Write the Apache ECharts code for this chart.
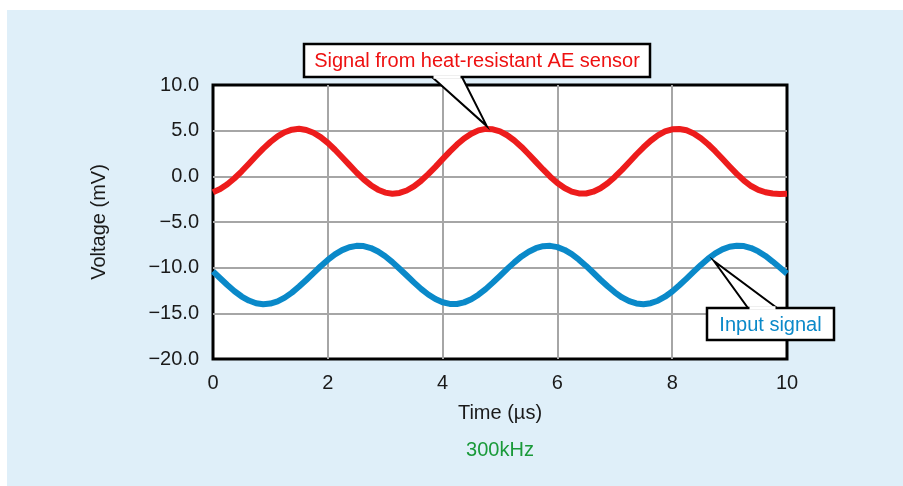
<!DOCTYPE html>
<html>
<head>
<meta charset="utf-8">
<script src="https://cdn.jsdelivr.net/npm/echarts@6/dist/echarts.min.js"></script>
<style>
html,body{margin:0;padding:0;background:#ffffff;}
#c{width:903px;height:486px;}
</style>
</head>
<body>
<div id="c"></div>
<script>
// ---- data (time step 0.125 µs) ----
var times = [0,0.125,0.25,0.375,0.5,0.625,0.75,0.875,1,1.125,1.25,1.375,1.5,1.625,1.75,1.875,2,2.125,2.25,2.375,2.5,2.625,2.75,2.875,3,3.125,3.25,3.375,3.5,3.625,3.75,3.875,4,4.125,4.25,4.375,4.5,4.625,4.75,4.875,5,5.125,5.25,5.375,5.5,5.625,5.75,5.875,6,6.125,6.25,6.375,6.5,6.625,6.75,6.875,7,7.125,7.25,7.375,7.5,7.625,7.75,7.875,8,8.125,8.25,8.375,8.5,8.625,8.75,8.875,9,9.125,9.25,9.375,9.5,9.625,9.75,9.875,10];
var aeSignal = [-1.74,-1.39,-0.87,-0.21,0.55,1.38,2.22,3.03,3.76,4.38,4.83,5.11,5.20,5.08,4.77,4.29,3.66,2.91,2.09,1.25,0.42,-0.33,-0.97,-1.46,-1.78,-1.90,-1.82,-1.55,-1.10,-0.49,0.24,1.04,1.88,2.71,3.48,4.15,4.67,5.03,5.19,5.15,4.92,4.50,3.92,3.22,2.42,1.58,0.75,-0.04,-0.73,-1.28,-1.67,-1.87,-1.88,-1.68,-1.30,-0.75,-0.07,0.71,1.55,2.39,3.18,3.90,4.48,4.91,5.15,5.19,5.04,4.69,4.17,3.51,2.75,1.92,1.08,0.27,-0.46,-1.06,-1.48,-1.74,-1.88,-1.93,-1.90];
var inputSignal = [-10.41,-11.16,-11.90,-12.58,-13.16,-13.60,-13.89,-14.00,-13.93,-13.69,-13.28,-12.73,-12.07,-11.35,-10.59,-9.84,-9.15,-8.55,-8.08,-7.76,-7.61,-7.64,-7.85,-8.23,-8.75,-9.39,-10.11,-10.86,-11.61,-12.32,-12.94,-13.44,-13.79,-13.97,-13.98,-13.80,-13.46,-12.96,-12.35,-11.64,-10.89,-10.13,-9.42,-8.77,-8.25,-7.87,-7.65,-7.61,-7.75,-8.06,-8.52,-9.12,-9.81,-10.56,-11.32,-12.04,-12.70,-13.26,-13.67,-13.92,-14.00,-13.89,-13.62,-13.18,-12.61,-11.93,-11.20,-10.44,-9.70,-9.02,-8.44,-8.00,-7.71,-7.60,-7.64,-7.85,-8.22,-8.72,-9.33,-9.98,-10.65];
var xTickLabels = ['0','2','4','6','8','10'];
var yTickLabels = ['\u221220.0','\u221215.0','\u221210.0','\u22125.0','0.0','5.0','10.0'];
var seriesNames = ['Signal from heat-resistant AE sensor','Input signal'];
var xAxisTitle = 'Time (\u00b5s)';
var yAxisTitle = 'Voltage (mV)';
var subTitle = '300kHz';
var aePointerAt = [4.77, 5.5];
var inputPointerAt = [8.73, -9.3];

function pairs(vals){ return times.map(function(t,i){ return [t, vals[i]]; }); }

var FONT = 'Liberation Sans, Arial, Helvetica, sans-serif';
var chart = echarts.init(document.getElementById('c'), null, {renderer:'canvas'});

var option = {
  animation:false,
  backgroundColor:'#ffffff',
  grid:{left:213,right:116,top:85,bottom:127,show:true,backgroundColor:'#ffffff',borderColor:'#000000',borderWidth:3,z:0},
  xAxis:{
    type:'value',min:0,max:10,interval:2,
    name:xAxisTitle,nameLocation:'middle',nameGap:44,
    nameTextStyle:{fontFamily:FONT,fontSize:20,color:'#1a1a1a'},
    axisLine:{show:false},axisTick:{show:false},
    axisLabel:{margin:14,fontFamily:FONT,fontSize:20,color:'#1a1a1a',
      formatter:function(v){ return xTickLabels[Math.round(v/2)]; }},
    splitLine:{show:true,showMinLine:false,showMaxLine:false,lineStyle:{color:'#a6a6a6',width:2}}
  },
  yAxis:{
    type:'value',min:-20,max:10,interval:5,
    name:yAxisTitle,nameLocation:'middle',nameGap:104,nameRotate:90,
    nameTextStyle:{fontFamily:FONT,fontSize:20,color:'#1a1a1a'},
    axisLine:{show:false},axisTick:{show:false},
    axisLabel:{margin:14,fontFamily:FONT,fontSize:20,color:'#1a1a1a',
      formatter:function(v){ return yTickLabels[Math.round((v+20)/5)]; }},
    splitLine:{show:true,showMinLine:false,showMaxLine:false,lineStyle:{color:'#a6a6a6',width:2}}
  },
  series:[
    {name:seriesNames[0],type:'line',smooth:false,showSymbol:false,data:pairs(aeSignal),
     lineStyle:{color:'#ed1c1c',width:6,join:'round',cap:'butt'},itemStyle:{color:'#ed1c1c'},z:3},
    {name:seriesNames[1],type:'line',smooth:false,showSymbol:false,data:pairs(inputSignal),
     lineStyle:{color:'#0a89c9',width:6,join:'round',cap:'butt'},itemStyle:{color:'#0a89c9'},z:3}
  ]
};
chart.setOption(option);

var tipA = chart.convertToPixel({gridIndex:0}, aePointerAt);
var tipB = chart.convertToPixel({gridIndex:0}, inputPointerAt);

function callout(box, base, tip, text, color){
  var els = [];
  els.push({type:'polygon',z:20,shape:{points:[[base[0],base[1]],[base[2],base[3]],tip]},
    style:{fill:'#ffffff',stroke:'#000000',lineWidth:2}});
  els.push({type:'rect',z:21,shape:{x:box[0],y:box[1],width:box[2],height:box[3]},
    style:{fill:'#ffffff',stroke:'#000000',lineWidth:2.5}});
  els.push({type:'line',z:22,shape:{x1:base[0]+1.5,y1:base[1],x2:base[2]-1.5,y2:base[3]},
    style:{stroke:'#ffffff',lineWidth:3.5}});
  els.push({type:'text',z:23,style:{x:box[0]+box[2]/2,y:box[1]+box[3]/2+1,text:text,fill:color,
    font:'20px '+FONT,align:'center',verticalAlign:'middle'}});
  return els;
}

var graphics = [
  {type:'rect',z:-10,silent:true,shape:{x:7,y:10,width:896,height:476},style:{fill:'#dfeff9'}}
];
graphics = graphics.concat(callout([304,44,346,33],[432,77,462,77],tipA,seriesNames[0],'#ee1111'));
graphics = graphics.concat(callout([707,308,127,32],[748,308,777,308],tipB,seriesNames[1],'#0a89c9'));
graphics.push({type:'text',z:5,style:{x:500,y:450,text:subTitle,fill:'#1a9a3a',font:'20px '+FONT,align:'center',verticalAlign:'middle'}});

chart.setOption({graphic:{elements:graphics}});
</script>
</body>
</html>
